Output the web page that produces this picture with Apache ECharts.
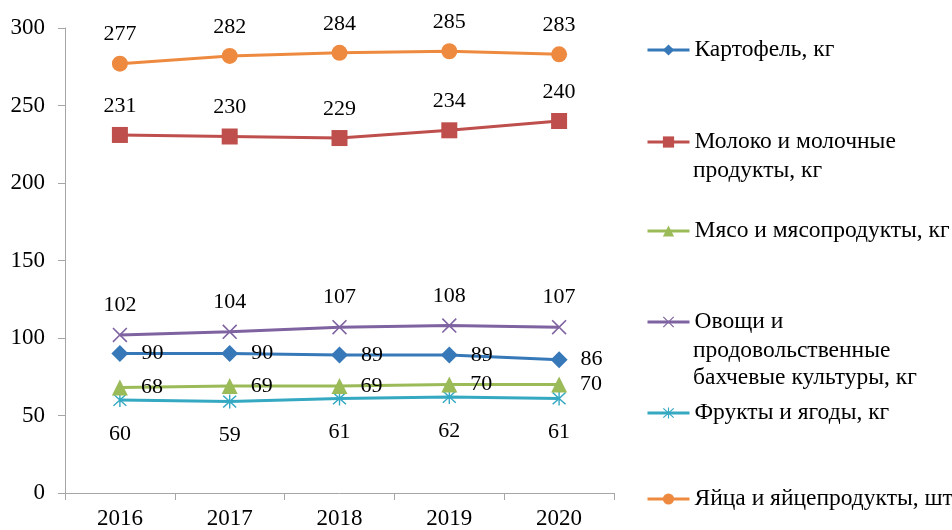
<!DOCTYPE html>
<html>
<head>
<meta charset="utf-8">
<script src="https://cdn.jsdelivr.net/npm/echarts@6/dist/echarts.min.js"></script>
<style>
  html, body { margin: 0; padding: 0; background: #fff; }
  #chart { width: 952px; height: 530px; }
</style>
</head>
<body>
<div id="chart"></div>
<script>
// годы
var years = ['2016', '2017', '2018', '2019', '2020'];
var yTicks = [0, 50, 100, 150, 200, 250, 300];

var potato = [90, 90, 89, 89, 86];
var milk = [231, 230, 229, 234, 240];
var meat = [68, 69, 69, 70, 70];
var veg = [102, 104, 107, 108, 107];
var fruit = [60, 59, 61, 62, 61];
var eggs = [277, 282, 284, 285, 283];

var names = [
    'Картофель, кг',
    'Молоко и молочные продукты, кг',
    'Мясо и мясопродукты, кг',
    'Овощи и продовольственные бахчевые культуры, кг',
    'Фрукты и ягоды, кг',
    'Яйца и яйцепродукты, шт'
];
// строки подписи легенды
var legendLines = [
    ['Картофель, кг'],
    ['Молоко и молочные', 'продукты, кг'],
    ['Мясо и мясопродукты, кг'],
    ['Овощи и', 'продовольственные', 'бахчевые культуры, кг'],
    ['Фрукты и ягоды, кг'],
    ['Яйца и яйцепродукты, шт']
];

var FONT = 'Liberation Serif';
var colors = ['#3779B8', '#BE4F4C', '#9BBB59', '#7F63A1', '#35A8C2', '#EE8A40'];

var crossPath = 'path://M1.5,0 L10,8.5 L18.5,0 L20,1.5 L11.5,10 L20,18.5 L18.5,20 L10,11.5 L1.5,20 L0,18.5 L8.5,10 L0,1.5 Z';
var starPath = 'path://M1.5,0 L10,8.5 L18.5,0 L20,1.5 L11.5,10 L20,18.5 L18.5,20 L10,11.5 L1.5,20 L0,18.5 L8.5,10 L0,1.5 Z M9,-1 L11,-1 L11,21 L9,21 Z';

var legendCenters = [51, 143, 232, 323, 414, 500];
var lineGap = 27;
var legendLeft = 646;

function makeSeries (i, data, symbol, size, pos, dist) {
    return {
        name: names[i],
        type: 'line',
        data: data,
        symbol: symbol,
        symbolSize: size,
        lineStyle: { width: 3, color: colors[i] },
        itemStyle: { color: colors[i] },
        label: {
            show: true,
            position: pos,
            distance: dist,
            color: '#000',
            fontFamily: FONT,
            fontSize: 22
        },
        z: 10 - i
    };
}

// высота строки текста больше itemHeight, поэтому сдвиг вверх
var legends = names.map(function (n, i) {
    return {
        data: [n],
        orient: 'vertical',
        left: legendLeft,
        top: legendCenters[i] - 13,
        padding: 0,
        itemWidth: 42,
        itemHeight: 14,
        selectedMode: false,
        lineStyle: { width: 3 },
        formatter: function () { return legendLines[i][0]; },
        textStyle: { color: '#000', fontFamily: FONT, fontSize: 23.5 }
    };
});

// продолжение строк легенды
var graphics = [];
legendLines.forEach(function (lines, i) {
    for (var k = 1; k < lines.length; k++) {
        graphics.push({
            type: 'text',
            x: legendLeft + 47,
            y: legendCenters[i] + k * lineGap + 1,
            style: {
                text: lines[k],
                fill: '#000',
                fontFamily: FONT,
                fontSize: 23.5,
                verticalAlign: 'middle'
            }
        });
    }
});

var chart = echarts.init(document.getElementById('chart'));
chart.setOption({
    animation: false,
    color: colors,
    grid: { left: 65, right: 338, top: 28, bottom: 35 },
    legend: legends,
    graphic: graphics,
    xAxis: {
        type: 'category',
        data: years,
        boundaryGap: true,
        axisLine: { lineStyle: { color: '#A6A6A6', width: 1 } },
        axisTick: { show: true, length: 7, lineStyle: { color: '#A6A6A6' } },
        axisLabel: { color: '#000', fontFamily: FONT, fontSize: 23, margin: 14 }
    },
    yAxis: {
        type: 'value',
        min: yTicks[0],
        max: yTicks[yTicks.length - 1],
        interval: 50,
        splitLine: { show: false },
        axisLine: { show: true, lineStyle: { color: '#A6A6A6', width: 1 } },
        axisTick: { show: true, length: 7, lineStyle: { color: '#A6A6A6' } },
        axisLabel: { color: '#000', fontFamily: FONT, fontSize: 23, margin: 20 }
    },
    series: [
        makeSeries(0, potato, 'diamond', 17, 'right', 13),
        makeSeries(1, milk, 'rect', 16, 'top', 10),
        makeSeries(2, meat, 'triangle', 16, 'right', 13),
        makeSeries(3, veg, crossPath, 15, 'top', 11),
        makeSeries(4, fruit, starPath, 14, 'bottom', 16),
        makeSeries(5, eggs, 'circle', 16, 'top', 10)
    ]
});
</script>
</body>
</html>
